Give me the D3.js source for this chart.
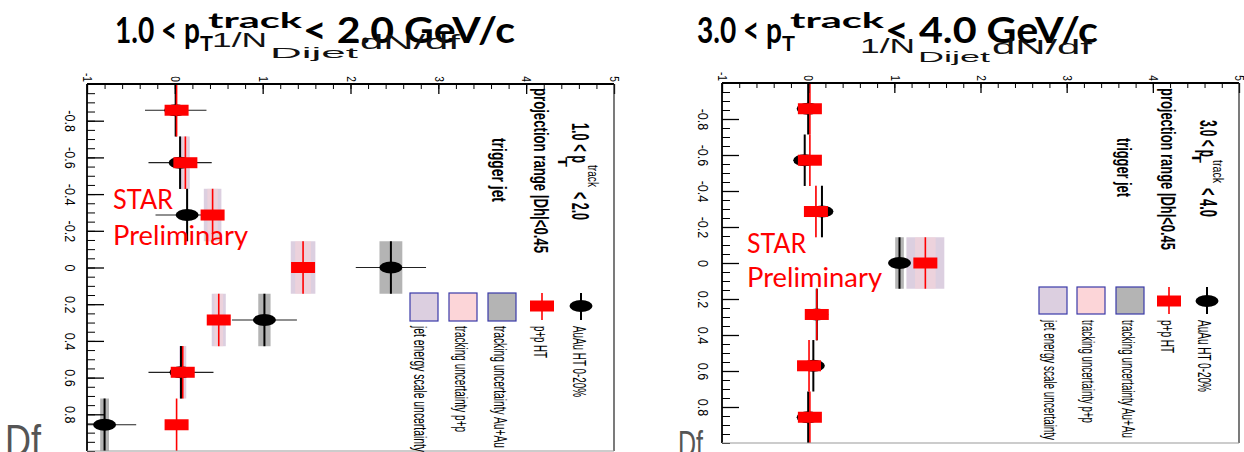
<!DOCTYPE html>
<html>
<head>
<meta charset="utf-8">
<script src="https://cdn.jsdelivr.net/npm/d3@7"></script>
<style>
  body { margin: 0; background: #fff; }
  svg { display: block; }
</style>
</head>
<body>
<svg id="chart" width="1244" height="452"></svg>
<script>
// ---- data -------------------------------------------------------------
// Δφ bin centres (k·π/11) and half bin width
const dphiCenters = [-0.857, -0.571, -0.286, 0, 0.286, 0.571, 0.857];
const dphiHalfWidth = 0.143;
const valueTicks = [-1, 0, 1, 2, 3, 4, 5];
const dphiTicks = [-0.8, -0.6, -0.4, -0.2, 0, 0.2, 0.4, 0.6, 0.8];

// 1.0 < pT < 2.0 GeV/c
const auauLow     = [0.01, 0.06, 0.14, 2.46, 1.02, 0.07, -0.80];
const auauStatLow = [0.35, 0.36, 0.36, 0.40, 0.37, 0.37, 0.36];
const auauTrkLow  = [0.01, 0.01, 0.01, 0.13, 0.07, 0.01, 0.05];
const ppLow       = [0.02, 0.12, 0.43, 1.46, 0.50, 0.09, 0.02];
const ppStatLow   = [0.04, 0.04, 0.05, 0.07, 0.05, 0.04, 0.04];
const ppTrkLow    = [0.00, 0.03, 0.06, 0.09, 0.05, 0.02, 0.00];
const ppJesLow    = [0.00, 0.05, 0.10, 0.14, 0.08, 0.04, 0.00];

// 3.0 < pT < 4.0 GeV/c
const auauHigh     = [0.00, -0.04, 0.16, 1.06, 0.10, 0.06, 0.00];
const auauStatHigh = [0.05, 0.05, 0.05, 0.08, 0.05, 0.05, 0.05];
const auauTrkHigh  = [0.00, 0.00, 0.01, 0.05, 0.01, 0.00, 0.00];
const ppHigh       = [0.02, 0.02, 0.09, 1.36, 0.10, 0.01, 0.02];
const ppStatHigh   = [0.02, 0.02, 0.03, 0.05, 0.03, 0.02, 0.02];
const ppTrkHigh    = [0.00, 0.00, 0.01, 0.12, 0.01, 0.00, 0.00];
const ppJesHigh    = [0.00, 0.00, 0.01, 0.22, 0.01, 0.00, 0.00];

const legendLabels = ["AuAu HT 0-20%", "p+p HT", "tracking uncertainty Au+Au",
                      "tracking uncertainty p+p", "jet energy scale uncertainty"];

// ---- style ------------------------------------------------------------
const SANS = "'Liberation Sans', Arial, Helvetica, sans-serif";
const HUM = "Lato, 'Open Sans', sans-serif";
const C_RED = "#ff0000", C_GRAY = "#b4b4b4", C_PINK = "#fcd5d8", C_LILAC = "#dccfe0";
const C_BOXEDGE = "#3a3aa8";

// ---- layout of the two pads -------------------------------------------
const pads = [
  {
    series: { au: auauLow, auStat: auauStatLow, auTrk: auauTrkLow,
              pp: ppLow, ppStat: ppStatLow, ppTrk: ppTrkLow, ppJes: ppJesLow },
    frame: { x0: 87, x1: 614, y0: 84, y1: 451 },
    yLabelX: 70,
    title: [
      { x: 115, y: 43, len: 85, size: 36, text: "1.0 < p" },
      { x: 200, y: 51, len: 13, size: 20, text: "T" },
      { x: 208, y: 28, len: 94, size: 21, text: "track" },
      { x: 303, y: 43, len: 212, size: 36, text: "< 2.0 GeV/c" }
    ],
    axisTitle: [
      { x: 212, y: 47, len: 55, size: 20, text: "1/N" },
      { x: 270, y: 58, len: 88, size: 15, text: "Dijet" },
      { x: 360, y: 49, len: 100, size: 20, text: "dN/df" }
    ],
    df: { x: 5, y: 456, len: 36, size: 44 },
    star: { x: 113, y1: 209, len1: 60, y2: 245, len2: 135, size: 26 },
    info: [
      { x: 572, y: 123, len: 40, size: 24, bold: true, text: "1.0 < p" },
      { x: 558, y: 157, len: 10, size: 13, bold: true, text: "T" },
      { x: 588, y: 165, len: 22, size: 15, text: "track" },
      { x: 572, y: 192, len: 28, size: 24, bold: true, text: "< 2.0" },
      { x: 534, y: 88, len: 165, size: 20, bold: true, text: "projection range |Dh|<0.45" },
      { x: 492, y: 138, len: 64, size: 20, bold: true, text: "trigger jet" }
    ],
    legend: { my: 306, my0: 293, my1: 320, auX: 581, ppX: 542,
              boxX: [488, 449, 410], boxW: 28, boxY0: 293, boxY1: 321,
              labelY: 326, labelX: [573, 534, 494, 455, 414],
              labelLen: [71, 32, 122, 106, 126] }
  },
  {
    series: { au: auauHigh, auStat: auauStatHigh, auTrk: auauTrkHigh,
              pp: ppHigh, ppStat: ppStatHigh, ppTrk: ppTrkHigh, ppJes: ppJesHigh },
    frame: { x0: 722, x1: 1239, y0: 83, y1: 443 },
    yLabelX: 703,
    title: [
      { x: 697, y: 43, len: 85, size: 36, text: "3.0 < p" },
      { x: 782, y: 51, len: 13, size: 20, text: "T" },
      { x: 790, y: 28, len: 94, size: 21, text: "track" },
      { x: 885, y: 43, len: 213, size: 36, text: "< 4.0 GeV/c" }
    ],
    axisTitle: [
      { x: 860, y: 53, len: 55, size: 20, text: "1/N" },
      { x: 918, y: 62, len: 72, size: 15, text: "Dijet" },
      { x: 992, y: 54, len: 100, size: 20, text: "dN/df" }
    ],
    df: { x: 678, y: 457, len: 25, size: 36 },
    star: { x: 747, y1: 253, len1: 59, y2: 287, len2: 135, size: 26 },
    info: [
      { x: 1200, y: 120, len: 37, size: 24, bold: true, text: "3.0 < p" },
      { x: 1192, y: 153, len: 10, size: 13, bold: true, text: "T" },
      { x: 1213, y: 160, len: 23, size: 15, text: "track" },
      { x: 1200, y: 188, len: 29, size: 24, bold: true, text: "< 4.0" },
      { x: 1161, y: 88, len: 162, size: 20, bold: true, text: "projection range |Dh|<0.45" },
      { x: 1117, y: 138, len: 59, size: 20, bold: true, text: "trigger jet" }
    ],
    legend: { my: 301, my0: 287, my1: 314, auX: 1207, ppX: 1169,
              boxX: [1116, 1077, 1039], boxW: 28, boxY0: 287, boxY1: 314,
              labelY: 320, labelX: [1198, 1161, 1122, 1082, 1044],
              labelLen: [72, 33, 118, 103, 120] }
  }
];

const svg = d3.select("#chart");
const defs = svg.append("defs");

// horizontal text squeezed/stretched to a given length
function hText(parent, o, family, weight, fill) {
  return parent.append("text")
    .attr("x", o.x).attr("y", o.y)
    .attr("font-family", family).attr("font-size", o.size)
    .attr("font-weight", weight || "normal").attr("fill", fill || "#000")
    .attr("textLength", o.len).attr("lengthAdjust", "spacingAndGlyphs")
    .text(o.text);
}

// text turned 90° clockwise; (x, y) = baseline x and start y on screen
function vText(parent, o) {
  const t = parent.append("text")
    .attr("transform", `translate(${o.x},${o.y}) rotate(90)`)
    .attr("font-family", o.family || SANS).attr("font-size", o.size)
    .attr("font-weight", o.bold ? "bold" : "normal")
    .attr("fill", o.fill || "#000")
    .text(o.text);
  if (o.len) t.attr("textLength", o.len).attr("lengthAdjust", "spacingAndGlyphs");
  return t;
}

const fmtTick = d => String(+d.toFixed(2));

pads.forEach((p, pi) => {
  const f = p.frame, s = p.series, L = p.legend;
  const x = d3.scaleLinear().domain([-1, 5]).range([f.x0, f.x1]);
  const y = d3.scaleLinear().domain([-1, 1]).range([f.y0, f.y1]);
  const g = svg.append("g");

  // titles above the pad
  p.title.forEach(r => hText(g, r, HUM, "bold"));
  p.axisTitle.forEach(r => hText(g, r, SANS, "normal", "#111"));

  // Δφ label, lower left
  hText(g, { x: p.df.x, y: p.df.y, len: p.df.len, size: p.df.size, text: "Df" }, SANS, "normal", "#555");

  const rows = dphiCenters.map((c, i) => ({
    c, au: s.au[i], auStat: s.auStat[i], auTrk: s.auTrk[i],
    pp: s.pp[i], ppStat: s.ppStat[i], ppTrk: s.ppTrk[i], ppJes: s.ppJes[i]
  }));

  const clipId = "pad-clip-" + pi;
  defs.append("clipPath").attr("id", clipId).append("rect")
    .attr("x", f.x0).attr("y", f.y0).attr("width", f.x1 - f.x0).attr("height", f.y1 - f.y0);
  const plot = g.append("g").attr("clip-path", `url(#${clipId})`);

  const yTop = d => y(d.c - dphiHalfWidth);
  const yH = d => y(d.c + dphiHalfWidth) - y(d.c - dphiHalfWidth);
  const box = (cls, key, err, fill, op) =>
    plot.selectAll("rect." + cls).data(rows.filter(d => d[err] > 0)).join("rect")
      .attr("class", cls)
      .attr("x", d => x(d[key] - d[err]))
      .attr("width", d => x(d[key] + d[err]) - x(d[key] - d[err]))
      .attr("y", yTop).attr("height", yH)
      .attr("fill", fill).attr("opacity", op);

  // systematic boxes
  box("jes", "pp", "ppJes", C_LILAC, 1);
  box("ptrk", "pp", "ppTrk", C_PINK, 0.5);
  box("atrk", "au", "auTrk", C_GRAY, 1);

  // Au+Au: bin width, statistical error, marker
  plot.selectAll("line.aubin").data(rows).join("line").attr("class", "aubin")
    .attr("x1", d => x(d.au)).attr("x2", d => x(d.au))
    .attr("y1", yTop).attr("y2", d => y(d.c + dphiHalfWidth))
    .attr("stroke", "#000").attr("stroke-width", 2);
  plot.selectAll("line.austat").data(rows).join("line").attr("class", "austat")
    .attr("x1", d => x(d.au - d.auStat)).attr("x2", d => x(d.au + d.auStat))
    .attr("y1", d => y(d.c)).attr("y2", d => y(d.c))
    .attr("stroke", "#222").attr("stroke-width", 1.2);
  plot.selectAll("ellipse.au").data(rows).join("ellipse").attr("class", "au")
    .attr("cx", d => x(d.au)).attr("cy", d => y(d.c))
    .attr("rx", 11.5).attr("ry", 6).attr("fill", "#000");

  // p+p: bin width, statistical error, marker
  plot.selectAll("line.ppbin").data(rows).join("line").attr("class", "ppbin")
    .attr("x1", d => x(d.pp)).attr("x2", d => x(d.pp))
    .attr("y1", yTop).attr("y2", d => y(d.c + dphiHalfWidth))
    .attr("stroke", C_RED).attr("stroke-width", 1.6);
  plot.selectAll("line.ppstat").data(rows).join("line").attr("class", "ppstat")
    .attr("x1", d => x(d.pp - d.ppStat)).attr("x2", d => x(d.pp + d.ppStat))
    .attr("y1", d => y(d.c)).attr("y2", d => y(d.c))
    .attr("stroke", C_RED).attr("stroke-width", 1.2);
  plot.selectAll("rect.pp").data(rows).join("rect").attr("class", "pp")
    .attr("x", d => x(d.pp) - 12).attr("y", d => y(d.c) - 5.5)
    .attr("width", 24).attr("height", 11).attr("fill", C_RED);

  // top (value) axis, ticks pointing inward
  const topMinor = d3.axisTop(x).tickValues(d3.range(-1, 5.001, 0.2))
    .tickSizeInner(-5).tickSizeOuter(0).tickFormat("");
  g.append("g").attr("transform", `translate(0,${f.y0})`).call(topMinor)
    .call(a => a.select(".domain").remove())
    .selectAll("line").attr("stroke", "#000");
  const topMajor = d3.axisTop(x).tickValues(valueTicks)
    .tickSizeInner(-10).tickSizeOuter(0).tickFormat(fmtTick);
  const ta = g.append("g").attr("transform", `translate(0,${f.y0})`).call(topMajor);
  ta.select(".domain").remove();
  ta.selectAll("line").attr("stroke", "#000").attr("stroke-width", 1.3);
  ta.selectAll("text")
    .attr("y", null).attr("dy", "0.35em")
    .attr("transform", "translate(0,-2) rotate(90) scale(0.85,1)")
    .attr("text-anchor", "end")
    .attr("font-family", SANS).attr("font-size", 12).attr("fill", "#000");

  // left (Δφ) axis, ticks pointing inward
  const leftMinor = d3.axisLeft(y).tickValues(d3.range(-1, 1.001, 0.05))
    .tickSizeInner(-8).tickSizeOuter(0).tickFormat("");
  g.append("g").attr("transform", `translate(${f.x0},0)`).call(leftMinor)
    .call(a => a.select(".domain").remove())
    .selectAll("line").attr("stroke", "#000");
  const leftMajor = d3.axisLeft(y).tickValues(dphiTicks)
    .tickSizeInner(-17).tickSizeOuter(0).tickFormat(fmtTick);
  const la = g.append("g").attr("transform", `translate(${f.x0},0)`).call(leftMajor);
  la.select(".domain").remove();
  la.selectAll("line").attr("stroke", "#000").attr("stroke-width", 1.3);
  la.selectAll("text")
    .attr("x", null).attr("dy", "0.35em")
    .attr("transform", `translate(${p.yLabelX - f.x0},0) rotate(90) scale(0.9,1)`)
    .attr("text-anchor", "middle")
    .attr("font-family", SANS).attr("font-size", 14).attr("fill", "#000");

  // pad frame
  g.append("line").attr("x1", f.x0).attr("x2", f.x1).attr("y1", f.y0).attr("y2", f.y0)
    .attr("stroke", "#000").attr("stroke-width", 1.8);
  g.append("line").attr("x1", f.x0).attr("x2", f.x0).attr("y1", f.y0).attr("y2", f.y1)
    .attr("stroke", "#000").attr("stroke-width", 1.8);
  g.append("line").attr("x1", f.x1).attr("x2", f.x1).attr("y1", f.y0).attr("y2", f.y1)
    .attr("stroke", "#222").attr("stroke-width", 1.2);
  g.append("line").attr("x1", f.x0).attr("x2", f.x1).attr("y1", f.y1).attr("y2", f.y1)
    .attr("stroke", "#999").attr("stroke-width", 1.2);

  // rotated annotations
  p.info.forEach(o => vText(g, o));

  // legend
  const lg = g.append("g");
  lg.append("line").attr("x1", L.auX).attr("x2", L.auX).attr("y1", L.my0).attr("y2", L.my1)
    .attr("stroke", "#000").attr("stroke-width", 2);
  lg.append("ellipse").attr("cx", L.auX).attr("cy", L.my).attr("rx", 11.5).attr("ry", 6).attr("fill", "#000");
  lg.append("line").attr("x1", L.ppX).attr("x2", L.ppX).attr("y1", L.my0).attr("y2", L.my1)
    .attr("stroke", C_RED).attr("stroke-width", 1.6);
  lg.append("rect").attr("x", L.ppX - 12).attr("y", L.my - 5.5).attr("width", 24).attr("height", 11).attr("fill", C_RED);
  [C_GRAY, C_PINK, C_LILAC].forEach((c, i) => {
    lg.append("rect").attr("x", L.boxX[i]).attr("y", L.boxY0)
      .attr("width", L.boxW).attr("height", L.boxY1 - L.boxY0)
      .attr("fill", c).attr("stroke", C_BOXEDGE).attr("stroke-width", 1.2);
  });
  legendLabels.forEach((t, i) => vText(lg, { x: L.labelX[i], y: L.labelY, len: L.labelLen[i], size: 18, text: t }));

  // preliminary tag
  hText(g, { x: p.star.x, y: p.star.y1, len: p.star.len1, size: p.star.size, text: "STAR" }, HUM, "normal", C_RED);
  hText(g, { x: p.star.x, y: p.star.y2, len: p.star.len2, size: p.star.size, text: "Preliminary" }, HUM, "normal", C_RED);
});
</script>
</body>
</html>
